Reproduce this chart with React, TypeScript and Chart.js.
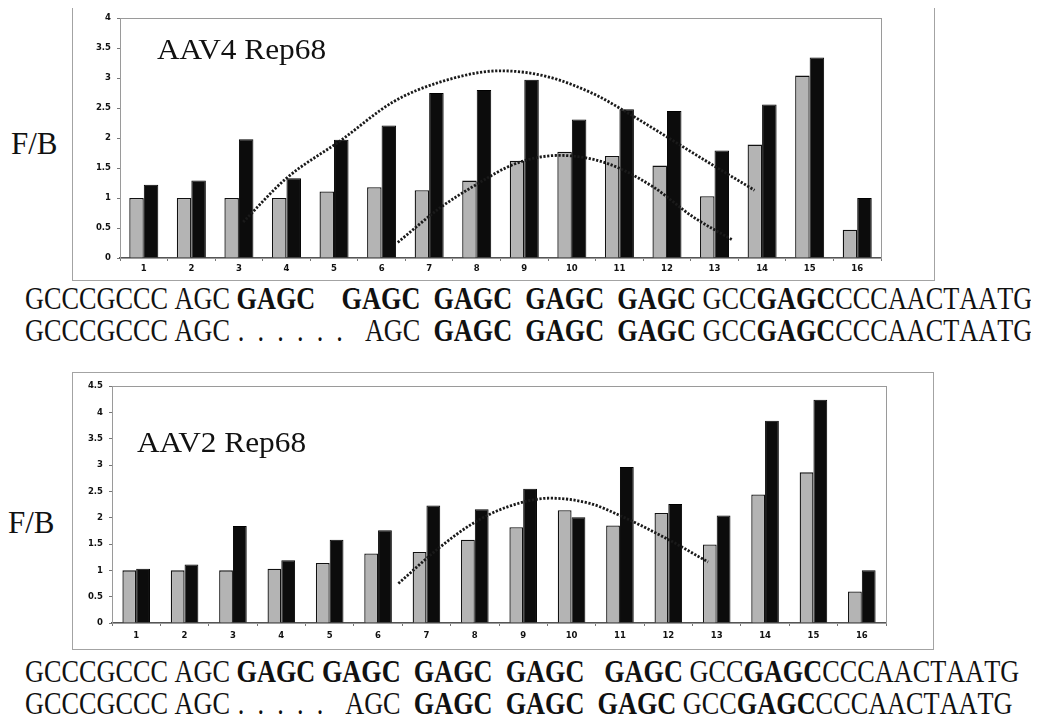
import React, { useEffect, useLayoutEffect, useRef, useState } from "react";
import { Chart, registerables } from "chart.js";

Chart.register(...registerables);

// ---------- data ----------
const categories = ["1", "2", "3", "4", "5", "6", "7", "8", "9", "10", "11", "12", "13", "14", "15", "16"];

const aav4Gray = [1.0, 1.0, 1.0, 1.0, 1.11, 1.18, 1.13, 1.29, 1.62, 1.77, 1.7, 1.54, 1.03, 1.89, 3.04, 0.47];
const aav4Black = [1.22, 1.29, 1.98, 1.33, 1.97, 2.21, 2.75, 2.8, 2.97, 2.31, 2.48, 2.45, 1.79, 2.56, 3.34, 1.0];

const aav2Gray = [1.0, 1.0, 1.0, 1.03, 1.14, 1.32, 1.35, 1.58, 1.82, 2.14, 1.85, 2.09, 1.49, 2.44, 2.86, 0.6];
const aav2Black = [1.03, 1.11, 1.84, 1.19, 1.58, 1.76, 2.23, 2.16, 2.55, 2.01, 2.96, 2.26, 2.04, 3.84, 4.24, 1.0];

// dotted trend curves (positions along the category axis)
const aav4OuterX = [3.09, 4.0, 5.16, 6.24, 7.22, 8.5, 9.5, 10.5, 11.0, 12.1, 12.96, 13.84];
const aav4OuterY = [0.6, 1.33, 1.97, 2.6, 2.93, 3.12, 3.02, 2.72, 2.5, 1.97, 1.55, 1.13];
const aav4InnerX = [6.34, 7.22, 7.92, 8.84, 9.74, 10.73, 11.7, 12.54, 13.38];
const aav4InnerY = [0.26, 0.83, 1.19, 1.58, 1.71, 1.58, 1.19, 0.69, 0.3];
const aav2TrendX = [6.42, 7.28, 7.96, 8.66, 9.55, 10.38, 11.0, 11.97, 12.82];
const aav2TrendY = [0.75, 1.44, 1.89, 2.2, 2.37, 2.27, 2.04, 1.6, 1.16];

const aav4YMax = 4;
const aav2YMax = 4.5;
const yStep = 0.5;

const titleTop = "AAV4 Rep68";
const titleBottom = "AAV2 Rep68";
const yLabel = "F/B";

type Seg = [string, boolean];
const seqTop1: Seg[] = [
  ["GCCCGCCC AGC ", false], ["GAGC", true], ["    ", false], ["GAGC", true], ["  ", false],
  ["GAGC", true], ["  ", false], ["GAGC", true], ["  ", false], ["GAGC", true], [" GCC", false],
  ["GAGC", true], ["CCCAACTAATG", false],
];
const seqTop2Tail: Seg[] = [
  ["GAGC", true], ["  ", false], ["GAGC", true], ["  ", false], ["GAGC", true], [" GCC", false],
  ["GAGC", true], ["CCCAACTAATG", false],
];
const seqBot1: Seg[] = [
  ["GCCCGCCC AGC ", false], ["GAGC", true], [" ", false], ["GAGC", true], ["  ", false],
  ["GAGC", true], ["  ", false], ["GAGC", true], ["   ", false], ["GAGC", true], [" GCC", false],
  ["GAGC", true], ["CCCAACTAATG", false],
];
const seqBot2Tail: Seg[] = [
  ["GAGC", true], ["  ", false], ["GAGC", true], ["  ", false], ["GAGC", true], [" GCC", false],
  ["GAGC", true], ["CCCAACTAATG", false],
];

const pts = (xs: number[], ys: number[]) => xs.map((x, i) => ({ x, y: ys[i] }));

// ---------- chart panel ----------
const framePlugin = {
  id: "plotFrame",
  beforeDatasetsDraw(chart: any) {
    const { ctx, chartArea } = chart;
    const { left, top, right, bottom } = chartArea;
    ctx.save();
    ctx.strokeStyle = "#9a9a9a";
    ctx.lineWidth = 1;
    ctx.strokeRect(Math.round(left) + 0.5, Math.round(top) + 0.5, Math.round(right - left), Math.round(bottom - top));
    ctx.restore();
  },
};

type PanelProps = {
  left: number; top: number; width: number; height: number;
  padTop: number; padRight: number; yAxisWidth: number; xAxisHeight: number; xTickPad: number;
  gray: number[]; black: number[]; trends: { x: number; y: number }[][]; yMax: number; catPct: number;
};

function BarPanel(p: PanelProps) {
  const barRef = useRef<HTMLCanvasElement>(null);
  const lineRef = useRef<HTMLCanvasElement>(null);
  useEffect(() => {
    const tickFont = { family: "'DejaVu Sans', 'Liberation Sans', sans-serif", weight: "bold" as const, size: 8.5 };
    const bars = new Chart(barRef.current as HTMLCanvasElement, {
      type: "bar",
      data: {
        labels: categories,
        datasets: [
          {
            data: p.gray, backgroundColor: "#b4b4b4", borderColor: "#111", borderWidth: 1.3,
            categoryPercentage: p.catPct, barPercentage: 1,
          },
          {
            data: p.black, backgroundColor: "#0c0c0c", borderColor: "#000", borderWidth: 1,
            categoryPercentage: p.catPct, barPercentage: 1,
          },
        ],
      },
      options: {
        responsive: false,
        animation: false,
        layout: { padding: { left: 0, right: p.padRight, top: p.padTop, bottom: 0 } },
        plugins: { legend: { display: false }, tooltip: { enabled: false }, title: { display: false } },
        scales: {
          x: {
            type: "category", offset: true,
            grid: { display: true, drawOnChartArea: false, drawTicks: true, tickLength: 3, color: "#777", offset: true },
            border: { display: true, color: "#555", width: 1.5 },
            ticks: { font: tickFont, color: "#111", padding: p.xTickPad, maxRotation: 0, autoSkip: false },
            afterFit: (s: any) => { s.height = p.xAxisHeight; },
          },
          y: {
            min: 0, max: p.yMax,
            grid: { display: true, drawOnChartArea: false, drawTicks: true, tickLength: 3, color: "#777" },
            border: { display: true, color: "#8a8a8a", width: 1 },
            ticks: { stepSize: yStep, font: tickFont, color: "#111", padding: 6, callback: (v: any) => `${+v}` },
            afterFit: (s: any) => { s.width = p.yAxisWidth; },
          },
        },
      } as any,
      plugins: [framePlugin],
    });
    const lines = new Chart(lineRef.current as HTMLCanvasElement, {
      type: "line",
      data: {
        datasets: p.trends.map((t) => ({
          data: t, borderColor: "#1a1a1a", borderWidth: 2.8, borderDash: [2.2, 1.6], pointRadius: 0,
          fill: false, cubicInterpolationMode: "monotone",
        })),
      },
      options: {
        responsive: false,
        animation: false,
        layout: { padding: { left: p.yAxisWidth, right: p.padRight, top: p.padTop, bottom: p.xAxisHeight } },
        plugins: { legend: { display: false }, tooltip: { enabled: false }, title: { display: false } },
        scales: {
          x: { type: "linear", display: false, offset: false, min: 0.5, max: 16.5 },
          y: { type: "linear", display: false, min: 0, max: p.yMax },
        },
      } as any,
    });
    return () => { bars.destroy(); lines.destroy(); };
  }, []);
  const abs: React.CSSProperties = { position: "absolute", left: 0, top: 0, width: p.width, height: p.height };
  return (
    <div style={{ position: "absolute", left: p.left, top: p.top, width: p.width, height: p.height }}>
      <canvas ref={barRef} width={p.width} height={p.height} style={abs} />
      <canvas ref={lineRef} width={p.width} height={p.height} style={{ ...abs, pointerEvents: "none" }} />
      <div style={{ ...abs, boxSizing: "border-box", border: "1.5px solid #a3a3a3", pointerEvents: "none" }} />
    </div>
  );
}

// ---------- text ----------
const serif = "'Liberation Serif', 'Times New Roman', serif";

function renderSegs(segs: Seg[]) {
  return segs.map(([t, b], i) => (
    <span key={i} style={{ fontWeight: b ? "bold" : "normal" }}>{t}</span>
  ));
}

function SeqBlock() {
  const ref = useRef<HTMLDivElement>(null);
  const [scale, setScale] = useState(1);
  useLayoutEffect(() => {
    if (ref.current) {
      const w = ref.current.offsetWidth;
      if (w > 0) setScale(1007 / w);
    }
  }, []);
  const fs = 31;
  const lineStyle = (top: number): React.CSSProperties => ({
    position: "absolute", left: 25, top, fontFamily: serif, fontSize: fs, lineHeight: 1,
    whiteSpace: "pre", color: "#111", transformOrigin: "left top", transform: `scaleX(${scale})`,
    fontKerning: "none", width: "max-content",
  });
  const em = (n: number) => `${n}em`;
  return (
    <>
      <div ref={ref} style={lineStyle(283)}>{renderSegs(seqTop1)}</div>
      <div style={lineStyle(315)}>
        <span style={{ display: "inline-flex", justifyContent: "space-between", width: em(15.557) }}>
          <span>GCCCGCCC AGC<span style={{ letterSpacing: "0.5em", marginLeft: "0.3em" }}>......</span></span>
          <span>{"AGC  "}</span>
        </span>
        {renderSegs(seqTop2Tail)}
      </div>
      <div style={lineStyle(656)}>{renderSegs(seqBot1)}</div>
      <div style={lineStyle(688)}>
        <span style={{ display: "inline-flex", justifyContent: "space-between", width: em(14.807) }}>
          <span>GCCCGCCC AGC<span style={{ letterSpacing: "0.5em", marginLeft: "0.3em" }}>.....</span></span>
          <span>{"AGC  "}</span>
        </span>
        {renderSegs(seqBot2Tail)}
      </div>
    </>
  );
}

export default function App() {
  return (
    <div style={{ position: "relative", width: 1039, height: 722, background: "#fff", margin: -8, overflow: "hidden" }}>
      <BarPanel left={72} top={6} width={863} height={275} padTop={12} padRight={54} yAxisWidth={48}
        xAxisHeight={23} xTickPad={3} gray={aav4Gray} black={aav4Black}
        trends={[pts(aav4OuterX, aav4OuterY), pts(aav4InnerX, aav4InnerY)]} yMax={aav4YMax} catPct={0.61} />
      <BarPanel left={72} top={372} width={862} height={278} padTop={14} padRight={48} yAxisWidth={40}
        xAxisHeight={27} xTickPad={5} gray={aav2Gray} black={aav2Black}
        trends={[pts(aav2TrendX, aav2TrendY)]} yMax={aav2YMax} catPct={0.57} />

      <div style={{ position: "absolute", left: 157, top: 35, fontFamily: serif, fontSize: 29, lineHeight: 1,
        whiteSpace: "pre", transformOrigin: "left top", transform: "scaleX(1.08)", color: "#111" }}>{titleTop}</div>
      <div style={{ position: "absolute", left: 137, top: 428, fontFamily: serif, fontSize: 29, lineHeight: 1,
        whiteSpace: "pre", transformOrigin: "left top", transform: "scaleX(1.08)", color: "#111" }}>{titleBottom}</div>

      <div style={{ position: "absolute", left: 11, top: 128, fontFamily: serif, fontSize: 31, lineHeight: 1, color: "#111" }}>{yLabel}</div>
      <div style={{ position: "absolute", left: 8, top: 507, fontFamily: serif, fontSize: 31, lineHeight: 1, color: "#111" }}>{yLabel}</div>

      <SeqBlock />
    </div>
  );
}
